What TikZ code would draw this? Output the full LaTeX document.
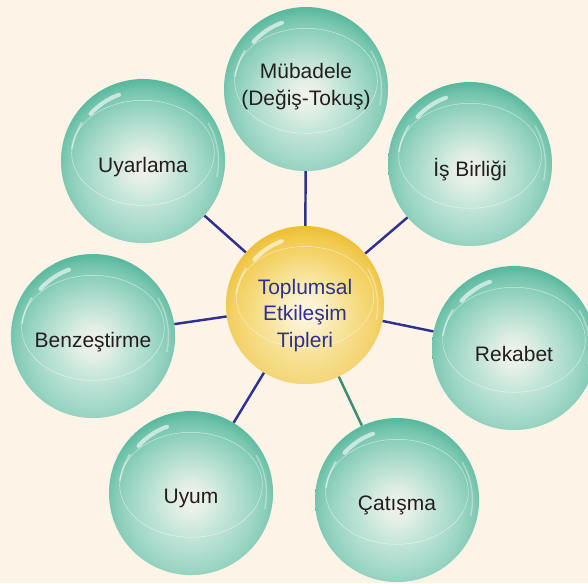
\documentclass[tikz,border=0pt]{standalone}
\usepackage{fontspec}
\setmainfont{Liberation Sans}
\usetikzlibrary{fadings}
\definecolor{bgcream}{HTML}{FDF3E7}
\definecolor{inkgray}{HTML}{231F20}
\definecolor{inkblue}{HTML}{2E3192}
\definecolor{linkblue}{HTML}{2E3192}
\definecolor{linkgreen}{HTML}{3A8F73}
\definecolor{gA}{HTML}{F1F0E7}
\definecolor{gB}{HTML}{DDECE1}
\definecolor{gC}{HTML}{BDE2D4}
\definecolor{gD}{HTML}{A0D7C5}
\definecolor{gE}{HTML}{86CDB7}
\definecolor{gF}{HTML}{70C3AA}
\definecolor{gG}{HTML}{58B99E}
\definecolor{yA}{HTML}{FDF7E4}
\definecolor{yB}{HTML}{FAEDBE}
\definecolor{yC}{HTML}{F7DF8A}
\definecolor{yD}{HTML}{F4D261}
\definecolor{yE}{HTML}{F1C847}
\definecolor{yF}{HTML}{EDC034}
\pgfdeclareradialshading{greenball}{\pgfpoint{0bp}{-2bp}}{color(0bp)=(gA); color(5bp)=(gB); color(10bp)=(gC); color(15bp)=(gD); color(19.5bp)=(gE); color(23bp)=(gF); color(25.5bp)=(gG); color(50bp)=(gG)}
\pgfdeclareradialshading{yellowball}{\pgfpoint{0bp}{-2bp}}{color(0bp)=(yA); color(6bp)=(yB); color(12bp)=(yC); color(18bp)=(yD); color(23bp)=(yE); color(25.5bp)=(yF); color(50bp)=(yF)}
\begin{document}
\begin{tikzpicture}[x=0.03cm, y=-0.03cm,
  gloss/.style={path picture={
    \fill[white, opacity=0.3, path fading=north] (path picture bounding box.south west) rectangle (path picture bounding box.north east);
    \draw[white, opacity=0.6, line width=0.4pt] ([yshift={0.1*#1}]path picture bounding box.center) ellipse[x radius={0.87*#1}, y radius={0.64*#1}];
    \draw[white, opacity=0.6, line width=3.5pt, line cap=round] ([shift={(110:{0.86*#1})}]path picture bounding box.center) arc[start angle=110, end angle=138, radius={0.86*#1}];
    \draw[white, opacity=0.45, line width=1.5pt, line cap=round] ([shift={(148:{0.88*#1})}]path picture bounding box.center) arc[start angle=148, end angle=170, radius={0.88*#1}];
    \draw[white, opacity=0.35, line width=1.2pt, line cap=round] ([shift={(-12:{0.92*#1})}]path picture bounding box.center) arc[start angle=-12, end angle=30, radius={0.92*#1}];}},
  ball/.style={circle, minimum size=4.92cm, inner sep=0pt, shading=greenball, gloss=2.46cm},
  core/.style={circle, minimum size=4.74cm, inner sep=0pt, shading=yellowball, gloss=2.37cm},
  lbl/.style={font=\fontsize{17.9}{22.5}\selectfont, text=inkgray, align=center, yshift=-5pt},
  link/.style={draw=linkblue, line width=2.1pt}]
  \useasboundingbox (0,0) rectangle (588,583);
  \fill[bgcream] (0,0) rectangle (588,583);
  % balls
  \node[core] (tipler) at (305,305) {};
  \node[ball] (mub) at (306,89) {};
  \node[ball] (isb) at (470,164) {};
  \node[ball] (rek) at (514,348) {};
  \node[ball] (cat) at (397,500) {};
  \node[ball] (uyum) at (191,493) {};
  \node[ball] (benz) at (93,336) {};
  \node[ball] (uyar) at (143,161) {};
  % connectors
  \draw[link] (tipler) -- (mub);
  \draw[link] (tipler) -- (isb);
  \draw[link] (tipler) -- (rek);
  \draw[link, draw=linkgreen] (tipler) -- (cat);
  \draw[link] (tipler) -- (uyum);
  \draw[link] (tipler) -- (benz);
  \draw[link] (tipler) -- (uyar);
  % labels
  \node[lbl, text=inkblue, yshift=-4pt] (tipler-t) at (tipler) {Toplumsal\\Etkileşim\\Tipleri};
  \node[lbl, yshift=7pt] (mub-t) at (mub) {Mübadele\\(Değiş-Tokuş)};
  \node[lbl] (isb-t) at (isb) {İş Birliği};
  \node[lbl] (rek-t) at (rek) {Rekabet};
  \node[lbl] (cat-t) at (cat) {Çatışma};
  \node[lbl] (uyum-t) at (uyum) {Uyum};
  \node[lbl] (benz-t) at (benz) {Benzeştirme};
  \node[lbl] (uyar-t) at (uyar) {Uyarlama};
\end{tikzpicture}
\end{document}
